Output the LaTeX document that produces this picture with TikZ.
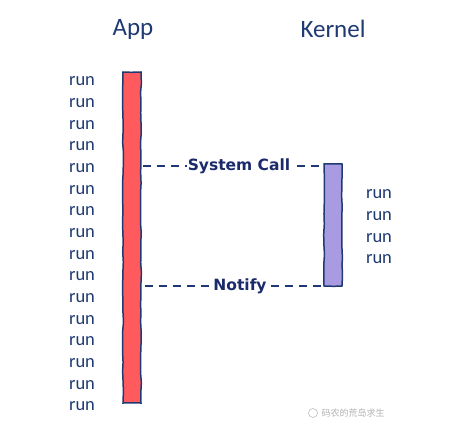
\documentclass[tikz,border=0pt]{standalone}
\usepackage{fontspec}
\setmainfont{Carlito}
\newfontfamily\lblfont{DejaVu Sans}
\newfontfamily\cjkfont{Noto Sans CJK SC}
\usetikzlibrary{decorations.pathmorphing}
\definecolor{navy}{HTML}{1F3A72}
\definecolor{lblnavy}{HTML}{1B2A6B}
\definecolor{appred}{HTML}{FF5A5E}
\definecolor{kpurple}{HTML}{A99BE2}
\tikzset{
  title/.style={text=navy, font=\fontsize{25}{30}\selectfont, inner sep=0pt},
  runlbl/.style={text=navy, font=\fontsize{18.5}{22}\selectfont, inner sep=0pt},
  bar/.style={draw=navy, line width=1.5pt, decorate, decoration={random steps, segment length=10pt, amplitude=0.5pt}},
  msg/.style={draw=navy, line width=1.3pt, dash pattern=on 8pt off 6pt},
  msglbl/.style={text=lblnavy, font=\lblfont\bfseries\fontsize{15.5}{18}\selectfont, inner sep=0.5pt, fill=white}
}
\begin{document}
\begin{tikzpicture}[x=1pt, y=-1pt]
\useasboundingbox (0,0) rectangle (453,428);
\node[title] (app) at (133,29) {App};
\node[title] (kernel) at (333,29) {Kernel};
% bars
\path[bar, fill=appred] (123,72) rectangle (141,403);
\path[bar, fill=kpurple] (324,164) rectangle (342,286);
% run labels left
\foreach \i in {0,...,15} {
  \node[runlbl] (lr\i) at (82,{81.5+\i*21.67}) {run};
}
% run labels right
\foreach \i in {0,...,3} {
  \node[runlbl] (rr\i) at (379,{194.5+\i*21.6}) {run};
}
% messages
\coordinate (sc1) at (143,166);
\coordinate (sc2) at (322,166);
\coordinate (nt1) at (145,286);
\coordinate (nt2) at (322,286);
\draw[msg] (sc1) -- (sc2);
\node[msglbl] (syscall) at (239,166) {System Call};
\draw[msg] (nt1) -- (nt2);
\node[msglbl] (notify) at (240,286) {Notify};
% watermark
\node[text=gray!60, font=\cjkfont\fontsize{9}{11}\selectfont, inner sep=0pt] (wm) at (353,413) {码农的荒岛求生};
\draw[gray!50, line width=0.6pt] (313,413) circle (4.5pt);
\end{tikzpicture}
\end{document}
